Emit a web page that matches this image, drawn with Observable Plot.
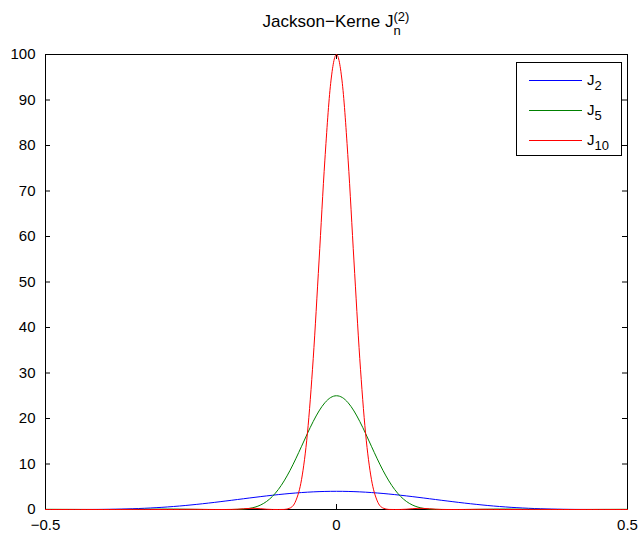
<!DOCTYPE html>
<html>
<head>
<meta charset="utf-8">
<script src="https://cdn.jsdelivr.net/npm/d3@7"></script>
<script src="https://cdn.jsdelivr.net/npm/@observablehq/plot@0.6"></script>
<style>
  body { margin: 0; background: #fff; font-family: "Liberation Sans", Arial, Helvetica, sans-serif; }
  #title { box-sizing: border-box; width: 642px; height: 40px; padding: 13px 15px 0 45px; text-align: center;
           font-size: 17px; line-height: 17px; color: #000; white-space: nowrap; }
  .ss { position: relative; display: inline-block; }
  .sup { font-size: 13px; position: relative; top: -6px; }
  .sub { font-size: 13px; position: absolute; left: 0; top: 9px; }
  #chart svg { display: block; }
</style>
</head>
<body>
<div id="title">Jackson−Kerne J<span class="ss"><span class="sup">(2)</span><span class="sub">n</span></span></div>
<div id="chart"></div>
<script>
const xs = [-0.50,-0.49,-0.48,-0.47,-0.46,-0.45,-0.44,-0.43,-0.42,-0.41,-0.40,-0.39,-0.38,-0.37,-0.36,-0.35,-0.34,-0.33,-0.32,-0.31,-0.30,-0.29,-0.28,-0.27,-0.26,-0.25,-0.24,-0.23,-0.22,-0.21,-0.20,-0.19,-0.18,-0.17,-0.16,-0.15,-0.14,-0.13,-0.12,-0.11,-0.10,-0.09,-0.08,-0.07,-0.06,-0.05,-0.04,-0.03,-0.02,-0.01,
  0,0.01,0.02,0.03,0.04,0.05,0.06,0.07,0.08,0.09,0.10,0.11,0.12,0.13,0.14,0.15,0.16,0.17,0.18,0.19,0.20,0.21,0.22,0.23,0.24,0.25,0.26,0.27,0.28,0.29,0.30,0.31,0.32,0.33,0.34,0.35,0.36,0.37,0.38,0.39,0.40,0.41,0.42,0.43,0.44,0.45,0.46,0.47,0.48,0.49,0.50];

const j2 = [0,0,0,0,0.001,0.002,0.005,0.009,0.015,0.024,0.037,0.053,0.074,0.100,0.131,0.170,0.215,0.269,0.330,0.399,0.477,0.564,0.660,0.765,0.878,1.000,1.130,1.266,1.410,1.559,1.714,1.872,2.033,2.196,2.359,2.521,2.681,2.838,2.989,3.135,3.273,3.402,3.521,3.628,3.724,3.807,3.875,3.929,3.969,3.992,
  4,
  3.992,3.969,3.929,3.875,3.807,3.724,3.628,3.521,3.402,3.273,3.135,2.989,2.838,2.681,2.521,2.359,2.196,2.033,1.872,1.714,1.559,1.410,1.266,1.130,1.000,0.878,0.765,0.660,0.564,0.477,0.399,0.330,0.269,0.215,0.170,0.131,0.100,0.074,0.053,0.037,0.024,0.015,0.009,0.005,0.002,0.001,0,0,0,0];

const j5 = [0.040,0.038,0.033,0.026,0.018,0.011,0.005,0.002,0,0,0,0,0.001,0.002,0.007,0.016,0.029,0.046,0.064,0.081,0.093,0.098,0.093,0.080,0.061,0.040,0.022,0.009,0.002,0,0,0,0.004,0.025,0.089,0.235,0.521,1.013,1.782,2.891,4.387,6.283,8.556,11.13,13.90,16.70,19.35,21.66,23.46,24.61,
  25,
  24.61,23.46,21.66,19.35,16.70,13.90,11.13,8.556,6.283,4.387,2.891,1.782,1.013,0.521,0.235,0.089,0.025,0.004,0,0,0,0.002,0.009,0.022,0.040,0.061,0.080,0.093,0.098,0.093,0.081,0.064,0.046,0.029,0.016,0.007,0.002,0.001,0,0,0,0,0.002,0.005,0.011,0.018,0.026,0.033,0.038,0.040];

const j10 = [0,0,0.001,0.004,0.008,0.011,0.009,0.005,0.001,0,0,0,0.002,0.006,0.012,0.016,0.014,0.008,0.002,0,0,0,0.003,0.014,0.029,0.040,0.037,0.022,0.007,0.001,0,0.001,0.015,0.064,0.152,0.235,0.249,0.172,0.065,0.007,0,0.015,0.312,1.892,6.636,16.70,33.16,54.62,76.79,93.67,
  100,
  93.67,76.79,54.62,33.16,16.70,6.636,1.892,0.312,0.015,0,0.007,0.065,0.172,0.249,0.235,0.152,0.064,0.015,0.001,0,0.001,0.007,0.022,0.037,0.040,0.029,0.014,0.003,0,0,0,0.002,0.008,0.014,0.016,0.012,0.006,0.002,0,0,0,0.001,0.005,0.009,0.011,0.008,0.004,0.001,0,0];

const seriesValues = [j2, j5, j10];
const seriesSub = ["2", "5", "10"];
const seriesColors = ["#0000ff", "#008000", "#ff0000"];
const xTicks = [-0.5, 0, 0.5];
const yTicks = [0, 10, 20, 30, 40, 50, 60, 70, 80, 90, 100];

const W = 642, H = 498, ML = 45, MR = 15, MT = 14, MB = 29;
const plotW = W - ML - MR, plotH = H - MT - MB, tickLen = 5;
const FONT = "'Liberation Sans', Arial, Helvetica, sans-serif";

const fmt = d => d < 0 ? "\u2212" + String(-d) : String(d);

const lineMarks = seriesValues.map((vals, k) =>
  Plot.line(xs.map((x, i) => ({x, y: vals[i]})), {
    x: "x", y: "y", stroke: seriesColors[k], strokeWidth: 1, curve: "monotone-x"
  })
);

const chart = Plot.plot({
  width: W, height: H,
  marginLeft: ML, marginRight: MR, marginTop: MT, marginBottom: MB,
  style: { fontFamily: FONT, fontSize: "15px", color: "#000", background: "#fff", overflow: "visible" },
  x: { domain: [-0.5, 0.5], label: null },
  y: { domain: [0, 100], label: null },
  marks: [
    Plot.frame({ stroke: "#000", strokeWidth: 1 }),
    Plot.tickX(xTicks, { x: d => d, stroke: "#000", insetTop: plotH - tickLen }),
    Plot.tickX(xTicks, { x: d => d, stroke: "#000", insetBottom: plotH - tickLen }),
    Plot.tickY(yTicks, { y: d => d, stroke: "#000", insetRight: plotW - tickLen }),
    Plot.tickY(yTicks, { y: d => d, stroke: "#000", insetLeft: plotW - tickLen }),
    Plot.axisX(xTicks, { tickSize: 0, tickPadding: 9.5, tickFormat: fmt, label: null, fontSize: 15 }),
    Plot.axisY(yTicks, { tickSize: 0, tickPadding: 10, tickFormat: fmt, label: null, fontSize: 15 }),
    ...lineMarks
  ]
});

document.getElementById("chart").appendChild(chart);

// legend box (top right, inside the axes)
const svg = d3.select(chart);
const lg = svg.append("g").attr("font-family", FONT).attr("text-anchor", "start");
const bx = 516, by = 22, bw = 105, bh = 93;
lg.append("rect").attr("x", bx + 0.5).attr("y", by + 0.5).attr("width", bw).attr("height", bh)
  .attr("fill", "#fff").attr("stroke", "#000").attr("stroke-width", 1);
seriesSub.forEach((s, k) => {
  const ry = by + 18 + k * 30;
  lg.append("line").attr("x1", bx + 13).attr("x2", bx + 66).attr("y1", ry + 0.5).attr("y2", ry + 0.5)
    .attr("stroke", seriesColors[k]).attr("stroke-width", 1);
  const t = lg.append("text").attr("x", bx + 71).attr("y", ry + 5).attr("font-size", 15)
    .attr("fill", "#000").attr("text-anchor", "start");
  t.append("tspan").text("J");
  t.append("tspan").attr("dy", 5).attr("font-size", 13).text(s);
});
</script>
</body>
</html>
